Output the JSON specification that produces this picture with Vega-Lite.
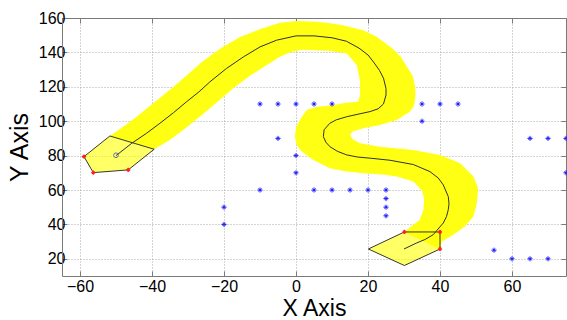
{
  "$schema": "https://vega.github.io/schema/vega-lite/v6.json",
  "width": 504,
  "height": 258,
  "autosize": "none",
  "padding": {"left": 62, "top": 18, "right": 1, "bottom": 44},
  "background": "white",
  "config": {"view": {"stroke": null}},
  "datasets": {
    "band": [
      {"i": 1, "x": -51.7, "y": 91.4}, {"i": 2, "x": -47.7, "y": 97.2}, {"i": 3, "x": -44.2, "y": 102.8},
      {"i": 4, "x": -40.5, "y": 109}, {"i": 5, "x": -36.9, "y": 115.1}, {"i": 6, "x": -33.6, "y": 120.8},
      {"i": 7, "x": -30.4, "y": 126.6}, {"i": 8, "x": -25.9, "y": 134.9}, {"i": 9, "x": -21, "y": 142.2},
      {"i": 10, "x": -15.8, "y": 148.7}, {"i": 11, "x": -9.7, "y": 153.8}, {"i": 12, "x": -4.4, "y": 157.2},
      {"i": 13, "x": 0, "y": 158.2}, {"i": 14, "x": 5.9, "y": 157.8}, {"i": 15, "x": 9.4, "y": 157},
      {"i": 16, "x": 12.7, "y": 156}, {"i": 17, "x": 18.7, "y": 152.9}, {"i": 18, "x": 22.5, "y": 149},
      {"i": 19, "x": 26.8, "y": 142.3}, {"i": 20, "x": 29.2, "y": 137.2}, {"i": 21, "x": 30.9, "y": 131.3},
      {"i": 22, "x": 32.4, "y": 126.4}, {"i": 23, "x": 33.1, "y": 120}, {"i": 24, "x": 33.2, "y": 114.6},
      {"i": 25, "x": 32.8, "y": 109}, {"i": 26, "x": 31.7, "y": 105.6}, {"i": 27, "x": 28, "y": 100.7},
      {"i": 28, "x": 23.3, "y": 97.8}, {"i": 29, "x": 18.7, "y": 95.9}, {"i": 30, "x": 15.8, "y": 94},
      {"i": 31, "x": 15, "y": 92.1}, {"i": 32, "x": 15.8, "y": 89.5}, {"i": 33, "x": 17.8, "y": 87.2},
      {"i": 34, "x": 23.3, "y": 85.2}, {"i": 35, "x": 32.6, "y": 83.3}, {"i": 36, "x": 40, "y": 80.4},
      {"i": 37, "x": 45.6, "y": 75.6}, {"i": 38, "x": 49.3, "y": 67.8}, {"i": 39, "x": 50.6, "y": 61},
      {"i": 40, "x": 50.4, "y": 56}, {"i": 41, "x": 50.2, "y": 52}, {"i": 42, "x": 49.3, "y": 44.6},
      {"i": 43, "x": 46.9, "y": 38.8}, {"i": 44, "x": 43.7, "y": 34}, {"i": 45, "x": 40.5, "y": 30.1},
      {"i": 46, "x": 40, "y": 25.7}, {"i": 47, "x": 30, "y": 35.6}, {"i": 48, "x": 32.6, "y": 39.8},
      {"i": 49, "x": 34.4, "y": 42.7}, {"i": 50, "x": 35.4, "y": 48.5}, {"i": 51, "x": 35.6, "y": 55},
      {"i": 52, "x": 35, "y": 59.5}, {"i": 53, "x": 32.6, "y": 64.9}, {"i": 54, "x": 28, "y": 67.8},
      {"i": 55, "x": 24, "y": 69}, {"i": 56, "x": 18.7, "y": 69.8}, {"i": 57, "x": 14, "y": 70.8},
      {"i": 58, "x": 9.4, "y": 72.7}, {"i": 59, "x": 4.8, "y": 77.5}, {"i": 60, "x": 1.5, "y": 82.5},
      {"i": 61, "x": 0.2, "y": 86}, {"i": 62, "x": -0.3, "y": 91}, {"i": 63, "x": 0, "y": 96},
      {"i": 64, "x": 1.1, "y": 101}, {"i": 65, "x": 3, "y": 106.5}, {"i": 66, "x": 5.5, "y": 108.3},
      {"i": 67, "x": 10, "y": 109.3}, {"i": 68, "x": 13, "y": 110.5}, {"i": 69, "x": 17.3, "y": 111.5},
      {"i": 70, "x": 17.8, "y": 115.2}, {"i": 71, "x": 17.8, "y": 122.9}, {"i": 72, "x": 16.9, "y": 132.6},
      {"i": 73, "x": 14.1, "y": 139.4}, {"i": 74, "x": 9, "y": 141}, {"i": 75, "x": 5, "y": 141.3},
      {"i": 76, "x": 1.9, "y": 141.5}, {"i": 77, "x": -1.1, "y": 140.4}, {"i": 78, "x": -4.2, "y": 137.7},
      {"i": 79, "x": -8.2, "y": 132.6}, {"i": 80, "x": -12.7, "y": 126.5}, {"i": 81, "x": -17.4, "y": 119.2},
      {"i": 82, "x": -23.9, "y": 107.5}, {"i": 83, "x": -27.6, "y": 101.2}, {"i": 84, "x": -31.4, "y": 94.8},
      {"i": 85, "x": -35.3, "y": 88.8}, {"i": 86, "x": -39.4, "y": 83.7}, {"i": 87, "x": -51.7, "y": 91.4}
    ],
    "vehicles": [
      {"g": "start", "i": 1, "x": -58.9, "y": 79.4}, {"g": "start", "i": 2, "x": -51.7, "y": 91.4},
      {"g": "start", "i": 3, "x": -39.4, "y": 83.7}, {"g": "start", "i": 4, "x": -46.6, "y": 71.7},
      {"g": "start", "i": 5, "x": -56.3, "y": 70.1}, {"g": "start", "i": 6, "x": -58.9, "y": 79.4},
      {"g": "end", "i": 1, "x": 20.1, "y": 25.7}, {"g": "end", "i": 2, "x": 30.1, "y": 35.6},
      {"g": "end", "i": 3, "x": 40, "y": 35.6}, {"g": "end", "i": 4, "x": 40, "y": 25.7},
      {"g": "end", "i": 5, "x": 30.1, "y": 16.1}, {"g": "end", "i": 6, "x": 20.1, "y": 25.7}
    ],
    "path": [
      {"i": 1, "x": -50, "y": 80}, {"i": 2, "x": -45.6, "y": 87.2}, {"i": 3, "x": -41.5, "y": 93},
      {"i": 4, "x": -37.8, "y": 98.8}, {"i": 5, "x": -34, "y": 105}, {"i": 6, "x": -30.4, "y": 111.3},
      {"i": 7, "x": -27, "y": 117}, {"i": 8, "x": -23.9, "y": 122.9}, {"i": 9, "x": -19.3, "y": 130.7},
      {"i": 10, "x": -14.6, "y": 137.4}, {"i": 11, "x": -10, "y": 143.2}, {"i": 12, "x": -5.4, "y": 147.1},
      {"i": 13, "x": 0, "y": 149.6}, {"i": 14, "x": 5, "y": 149.6}, {"i": 15, "x": 10, "y": 148.5},
      {"i": 16, "x": 14, "y": 146.5}, {"i": 17, "x": 17.5, "y": 142.5}, {"i": 18, "x": 20, "y": 138.5},
      {"i": 19, "x": 21.5, "y": 134.5}, {"i": 20, "x": 23.2, "y": 129.5}, {"i": 21, "x": 24.3, "y": 125},
      {"i": 22, "x": 25, "y": 119}, {"i": 23, "x": 25, "y": 115.2}, {"i": 24, "x": 24.3, "y": 110},
      {"i": 25, "x": 22.8, "y": 107.2}, {"i": 26, "x": 20.6, "y": 105.6}, {"i": 27, "x": 17.5, "y": 104.2},
      {"i": 28, "x": 14.1, "y": 102.6}, {"i": 29, "x": 11.2, "y": 100.8}, {"i": 30, "x": 9.4, "y": 98.8},
      {"i": 31, "x": 7.8, "y": 95}, {"i": 32, "x": 7.6, "y": 91}, {"i": 33, "x": 8.3, "y": 87.8},
      {"i": 34, "x": 9.4, "y": 85.2}, {"i": 35, "x": 11.5, "y": 82.5}, {"i": 36, "x": 14.1, "y": 80.4},
      {"i": 37, "x": 17, "y": 79.2}, {"i": 38, "x": 20.6, "y": 78.5}, {"i": 39, "x": 26.1, "y": 77.3},
      {"i": 40, "x": 32.6, "y": 74.8}, {"i": 41, "x": 37.2, "y": 70.7}, {"i": 42, "x": 39.5, "y": 67},
      {"i": 43, "x": 40.9, "y": 63}, {"i": 44, "x": 42.3, "y": 56.2}, {"i": 45, "x": 42.5, "y": 52},
      {"i": 46, "x": 42.3, "y": 48.5}, {"i": 47, "x": 41.8, "y": 44.5}, {"i": 48, "x": 40.9, "y": 40.8},
      {"i": 49, "x": 38.1, "y": 34}, {"i": 50, "x": 35.8, "y": 31.2}, {"i": 51, "x": 33.5, "y": 29.2},
      {"i": 52, "x": 30, "y": 25.7}
    ],
    "obstacles": [
      {"x": -10, "y": 110}, {"x": -5, "y": 110}, {"x": 0, "y": 110}, {"x": 5, "y": 110}, {"x": 10, "y": 110},
      {"x": 35, "y": 110}, {"x": 40, "y": 110}, {"x": 45, "y": 110},
      {"x": -5, "y": 90}, {"x": 35, "y": 100}, {"x": 0, "y": 80}, {"x": 0, "y": 70},
      {"x": -10, "y": 60}, {"x": 5, "y": 60}, {"x": 10, "y": 60}, {"x": 15, "y": 60}, {"x": 20, "y": 60}, {"x": 25, "y": 60},
      {"x": 25, "y": 55}, {"x": 25, "y": 50}, {"x": 25, "y": 45},
      {"x": -20, "y": 50}, {"x": -20, "y": 40}, {"x": 55, "y": 25},
      {"x": 60, "y": 20}, {"x": 65, "y": 20}, {"x": 70, "y": 20},
      {"x": 65, "y": 90}, {"x": 70, "y": 90}, {"x": 75, "y": 90}, {"x": 75, "y": 70}
    ],
    "corners": [
      {"x": -58.9, "y": 79.4}, {"x": -56.3, "y": 70.1}, {"x": -46.6, "y": 71.7},
      {"x": 30.1, "y": 35.6}, {"x": 40, "y": 35.6}, {"x": 40, "y": 25.7}
    ],
    "startpt": [{"x": -50, "y": 80.2}]
  },
  "resolve": {"axis": {"x": "independent", "y": "independent"}},
  "layer": [
    {
      "data": {"name": "band"},
      "mark": {"type": "line", "fill": "#ffff14", "stroke": null, "strokeWidth": 0, "interpolate": "linear"},
      "encoding": {
        "x": {"field": "x", "type": "quantitative",
          "scale": {"domain": [-65, 75], "nice": false, "zero": false},
          "axis": {"orient": "bottom", "values": [-60, -40, -20, 0, 20, 40, 60], "grid": true,
            "gridDash": [1, 2], "gridColor": "#a8a8a8", "gridWidth": 1,
            "domainColor": "#7a7a7a", "tickColor": "#7a7a7a", "tickSize": -5,
            "labelFont": "Liberation Sans", "labelFontSize": 16, "labelColor": "#000000", "labelPadding": 7,
            "title": "X Axis", "titleFont": "Liberation Sans", "titleFontSize": 23, "titleFontWeight": "normal",
            "titleColor": "#000000", "titleX": 252, "titleY": 44, "titleBaseline": "bottom", "titleAlign": "center"}},
        "y": {"field": "y", "type": "quantitative",
          "scale": {"domain": [10, 160], "nice": false, "zero": false},
          "axis": {"orient": "left", "values": [20, 40, 60, 80, 100, 120, 140, 160], "grid": true,
            "gridDash": [1, 2], "gridColor": "#a8a8a8", "gridWidth": 1,
            "domainColor": "#7a7a7a", "tickColor": "#7a7a7a", "tickSize": -5,
            "labelFont": "Liberation Sans", "labelFontSize": 16, "labelColor": "#000000", "labelPadding": 2,
            "title": "Y Axis", "titleFont": "Liberation Sans", "titleFontSize": 25, "titleFontWeight": "normal",
            "titleColor": "#000000", "titleX": -35, "titleY": 129, "titleAngle": -90,
            "titleBaseline": "alphabetic", "titleAlign": "center"}},
        "order": {"field": "i", "type": "quantitative"}
      }
    },
    {
      "data": {"name": "vehicles"},
      "mark": {"type": "line", "fill": "#ffff00", "fillOpacity": 0.6, "stroke": "#202020", "strokeWidth": 0.9},
      "encoding": {
        "x": {"field": "x", "type": "quantitative", "axis": null},
        "y": {"field": "y", "type": "quantitative", "axis": null},
        "detail": {"field": "g"},
        "order": {"field": "i", "type": "quantitative"}
      }
    },
    {
      "data": {"name": "path"},
      "mark": {"type": "line", "stroke": "#303030", "strokeWidth": 1},
      "encoding": {
        "x": {"field": "x", "type": "quantitative", "axis": null},
        "y": {"field": "y", "type": "quantitative", "axis": null},
        "order": {"field": "i", "type": "quantitative"}
      }
    },
    {
      "data": {"name": "obstacles"},
      "mark": {"type": "point", "shape": "M-1,0H1M0,-1V1M-0.6,-0.6L0.6,0.6M-0.6,0.6L0.6,-0.6", "filled": false,
        "stroke": "#2020ff", "strokeWidth": 1, "size": 26, "opacity": 1},
      "encoding": {
        "x": {"field": "x", "type": "quantitative",
          "axis": {"orient": "top", "values": [-60, -40, -20, 0, 20, 40, 60], "labels": false, "title": null, "grid": false,
            "domainColor": "#7a7a7a", "tickColor": "#7a7a7a", "tickSize": -5}},
        "y": {"field": "y", "type": "quantitative",
          "axis": {"orient": "right", "values": [20, 40, 60, 80, 100, 120, 140, 160], "labels": false, "title": null, "grid": false,
            "domainColor": "#7a7a7a", "tickColor": "#7a7a7a", "tickSize": -5}}
      }
    },
    {
      "data": {"name": "corners"},
      "mark": {"type": "point", "shape": "M-1,0H1M0,-1V1M-0.6,-0.6L0.6,0.6M-0.6,0.6L0.6,-0.6", "filled": false,
        "stroke": "#ff2020", "strokeWidth": 1.1, "size": 18, "opacity": 1},
      "encoding": {
        "x": {"field": "x", "type": "quantitative", "axis": null},
        "y": {"field": "y", "type": "quantitative", "axis": null}
      }
    },
    {
      "data": {"name": "startpt"},
      "mark": {"type": "point", "shape": "circle", "filled": false, "stroke": "#6a6aa8", "strokeWidth": 1, "size": 22, "opacity": 1},
      "encoding": {
        "x": {"field": "x", "type": "quantitative", "axis": null},
        "y": {"field": "y", "type": "quantitative", "axis": null}
      }
    }
  ]
}
